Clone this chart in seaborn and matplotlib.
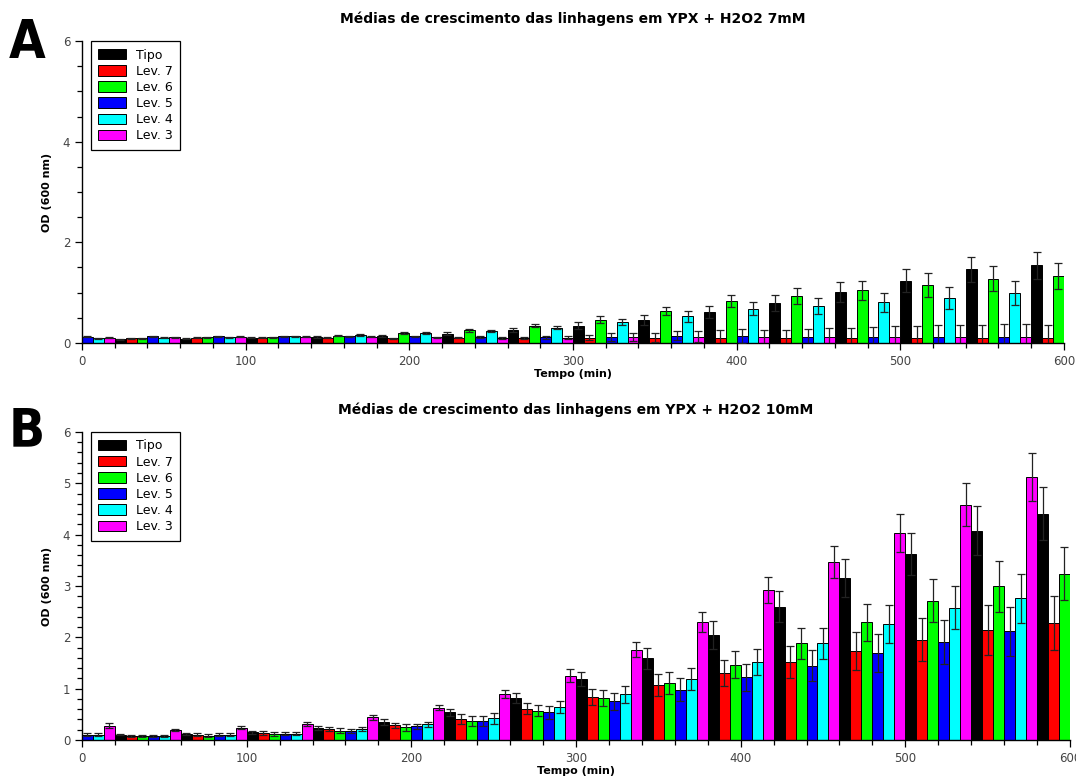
import numpy as np
import pandas as pd
import matplotlib
matplotlib.use("Agg")
import matplotlib.pyplot as plt
from matplotlib.patches import Patch
from matplotlib.ticker import MultipleLocator
import seaborn as sns

# tempos de leitura de cada linhagem (min)
tempos = [0, 40, 80, 120, 160, 200, 240, 280, 320, 360, 400, 440, 480, 520, 560]

# ordem das linhagens na legenda e ordem das barras dentro de cada bloco de 40 min
linhagens = ["Tipo", "Lev. 7", "Lev. 6", "Lev. 5", "Lev. 4", "Lev. 3"]
cores = ["#000000", "#ff0000", "#00ff00", "#0000ff", "#00ffff", "#ff00ff"]
ordem_barras = ["Lev. 5", "Lev. 4", "Lev. 3", "Tipo", "Lev. 7", "Lev. 6"]

# YPX + H2O2 7mM - medias
tipo_7 = [0.07, 0.08, 0.10, 0.12, 0.13, 0.18, 0.26, 0.34, 0.46, 0.62, 0.79, 1.01, 1.24, 1.46, 1.54]
lev7_7 = [0.09, 0.10, 0.10, 0.10, 0.09, 0.10, 0.10, 0.10, 0.10, 0.10, 0.10, 0.10, 0.10, 0.10, 0.10]
lev6_7 = [0.09, 0.11, 0.11, 0.14, 0.19, 0.25, 0.34, 0.46, 0.64, 0.83, 0.94, 1.05, 1.15, 1.28, 1.33]
lev5_7 = [0.12, 0.13, 0.13, 0.13, 0.13, 0.13, 0.12, 0.11, 0.12, 0.14, 0.14, 0.12, 0.12, 0.12, 0.12]
lev4_7 = [0.09, 0.10, 0.11, 0.13, 0.15, 0.19, 0.23, 0.30, 0.41, 0.53, 0.68, 0.74, 0.81, 0.90, 1.00]
lev3_7 = [0.10, 0.11, 0.12, 0.12, 0.12, 0.11, 0.10, 0.10, 0.12, 0.12, 0.12, 0.12, 0.12, 0.12, 0.12]
# YPX + H2O2 7mM - desvios
tipo_7_err = [0.01, 0.01, 0.01, 0.02, 0.02, 0.03, 0.04, 0.07, 0.10, 0.12, 0.16, 0.20, 0.23, 0.24, 0.27]
lev7_7_err = [0.01, 0.01, 0.01, 0.01, 0.01, 0.01, 0.02, 0.05, 0.09, 0.15, 0.16, 0.20, 0.23, 0.26, 0.26]
lev6_7_err = [0.01, 0.01, 0.01, 0.01, 0.02, 0.03, 0.03, 0.07, 0.08, 0.12, 0.16, 0.19, 0.24, 0.24, 0.26]
lev5_7_err = [0.01, 0.01, 0.01, 0.01, 0.01, 0.01, 0.02, 0.03, 0.08, 0.09, 0.14, 0.16, 0.20, 0.23, 0.26]
lev4_7_err = [0.01, 0.01, 0.01, 0.01, 0.02, 0.02, 0.02, 0.03, 0.06, 0.11, 0.13, 0.16, 0.19, 0.22, 0.24]
lev3_7_err = [0.01, 0.01, 0.01, 0.01, 0.01, 0.01, 0.02, 0.03, 0.08, 0.11, 0.14, 0.18, 0.22, 0.24, 0.25]

# YPX + H2O2 10mM - medias
tipo_10 = [0.10, 0.12, 0.15, 0.24, 0.35, 0.54, 0.82, 1.19, 1.59, 2.05, 2.60, 3.15, 3.63, 4.08, 4.41]
lev7_10 = [0.08, 0.10, 0.13, 0.21, 0.29, 0.41, 0.61, 0.84, 1.07, 1.31, 1.52, 1.73, 1.95, 2.14, 2.28]
lev6_10 = [0.07, 0.085, 0.11, 0.18, 0.25, 0.37, 0.57, 0.82, 1.11, 1.47, 1.88, 2.29, 2.71, 2.99, 3.24]
lev5_10 = [0.10, 0.085, 0.10, 0.12, 0.18, 0.27, 0.37, 0.54, 0.75, 0.98, 1.22, 1.45, 1.69, 1.91, 2.12]
lev4_10 = [0.10, 0.085, 0.10, 0.12, 0.22, 0.31, 0.42, 0.64, 0.89, 1.19, 1.52, 1.88, 2.25, 2.58, 2.76]
lev3_10 = [0.28, 0.19, 0.24, 0.31, 0.44, 0.63, 0.90, 1.25, 1.76, 2.30, 2.92, 3.46, 4.04, 4.58, 5.12]
# YPX + H2O2 10mM - desvios
tipo_10_err = [0.01, 0.02, 0.03, 0.04, 0.05, 0.07, 0.10, 0.14, 0.21, 0.27, 0.31, 0.37, 0.41, 0.48, 0.52]
lev7_10_err = [0.02, 0.03, 0.04, 0.04, 0.05, 0.10, 0.11, 0.16, 0.21, 0.25, 0.31, 0.37, 0.42, 0.49, 0.53]
lev6_10_err = [0.02, 0.03, 0.04, 0.05, 0.07, 0.10, 0.11, 0.16, 0.22, 0.26, 0.31, 0.36, 0.42, 0.49, 0.52]
lev5_10_err = [0.03, 0.02, 0.03, 0.03, 0.04, 0.05, 0.10, 0.13, 0.17, 0.22, 0.26, 0.31, 0.37, 0.43, 0.48]
lev4_10_err = [0.03, 0.02, 0.03, 0.03, 0.04, 0.05, 0.10, 0.11, 0.16, 0.21, 0.26, 0.30, 0.37, 0.42, 0.48]
lev3_10_err = [0.05, 0.02, 0.03, 0.04, 0.05, 0.05, 0.08, 0.13, 0.14, 0.20, 0.25, 0.31, 0.37, 0.42, 0.47]

painel_7 = {
    "Tipo": (tipo_7, tipo_7_err), "Lev. 7": (lev7_7, lev7_7_err),
    "Lev. 6": (lev6_7, lev6_7_err), "Lev. 5": (lev5_7, lev5_7_err),
    "Lev. 4": (lev4_7, lev4_7_err), "Lev. 3": (lev3_7, lev3_7_err),
}
painel_10 = {
    "Tipo": (tipo_10, tipo_10_err), "Lev. 7": (lev7_10, lev7_10_err),
    "Lev. 6": (lev6_10, lev6_10_err), "Lev. 5": (lev5_10, lev5_10_err),
    "Lev. 4": (lev4_10, lev4_10_err), "Lev. 3": (lev3_10, lev3_10_err),
}

sns.set_style("ticks")
plt.rcParams["font.family"] = ["DejaVu Sans"]
plt.rcParams["text.color"] = "black"
plt.rcParams["axes.labelcolor"] = "black"

largura = 40 / len(ordem_barras)


def monta_df(painel):
    linhas = []
    for i, nome in enumerate(ordem_barras):
        med, err = painel[nome]
        for t, m, e in zip(tempos, med, err):
            linhas.append({"pos": t + i * largura + largura / 2, "od": m, "err": e, "linhagem": nome})
    return pd.DataFrame(linhas)


def desenha(ax, painel, titulo, major_y, minor_y):
    df = monta_df(painel)
    sns.barplot(data=df, x="pos", y="od", hue="linhagem", hue_order=linhagens,
                palette=cores, native_scale=True, dodge=False, width=1.0,
                errorbar=None, legend=False, edgecolor="black", linewidth=0.7,
                saturation=1, ax=ax)
    ax.errorbar(df["pos"], df["od"], yerr=df["err"], fmt="none", ecolor="#222222",
                elinewidth=0.9, capsize=3, capthick=0.9, zorder=5)
    ax.set_xlim(0, 600)
    ax.set_ylim(0, 6)
    ax.xaxis.set_major_locator(MultipleLocator(100))
    ax.xaxis.set_minor_locator(MultipleLocator(20))
    ax.yaxis.set_major_locator(MultipleLocator(major_y))
    ax.yaxis.set_minor_locator(MultipleLocator(minor_y))
    ax.tick_params(which="major", length=5, width=0.9, color="black",
                   labelsize=8.5, labelcolor="#444444")
    ax.tick_params(which="minor", length=3.5, width=0.9, color="black")
    for s in ["left", "bottom"]:
        ax.spines[s].set_color("black")
        ax.spines[s].set_linewidth(1.0)
    sns.despine(ax=ax)
    ax.set_xlabel("Tempo (min)", fontsize=8, fontweight="bold", labelpad=1)
    ax.set_ylabel("OD (600 nm)", fontsize=8, fontweight="bold", labelpad=8)
    ax.set_title(titulo, fontsize=10, fontweight="bold", pad=13, color="black")
    handles = [Patch(facecolor=c, edgecolor="black", linewidth=0.7, label=n)
               for n, c in zip(linhagens, cores)]
    leg = ax.legend(handles=handles, loc="upper left", bbox_to_anchor=(0.009, 1.0),
                    borderaxespad=0, fancybox=False, framealpha=1, edgecolor="black",
                    fontsize=9, handlelength=2.2, handleheight=0.9, labelspacing=0.25,
                    handletextpad=0.8, borderpad=0.6)
    leg.get_frame().set_linewidth(0.9)


fig = plt.figure(figsize=(10.76, 7.8), dpi=100)
axA = fig.add_axes([0.0762, 0.5603, 0.9126, 0.3871])
axB = fig.add_axes([0.0762, 0.0513, 0.9182, 0.3949])

desenha(axA, painel_7, "Médias de crescimento das linhagens em YPX + H2O2 7mM", 2, 0.5)
desenha(axB, painel_10, "Médias de crescimento das linhagens em YPX + H2O2 10mM", 1, 0.2)

for letra, y in [("A", 0.978), ("B", 0.480)]:
    fig.text(0.008, y, letra, va="top", ha="left", fontsize=38, fontweight="heavy",
             fontstretch="condensed", color="black", family=["DejaVu Sans"])

fig.savefig("out.png", dpi=100)
